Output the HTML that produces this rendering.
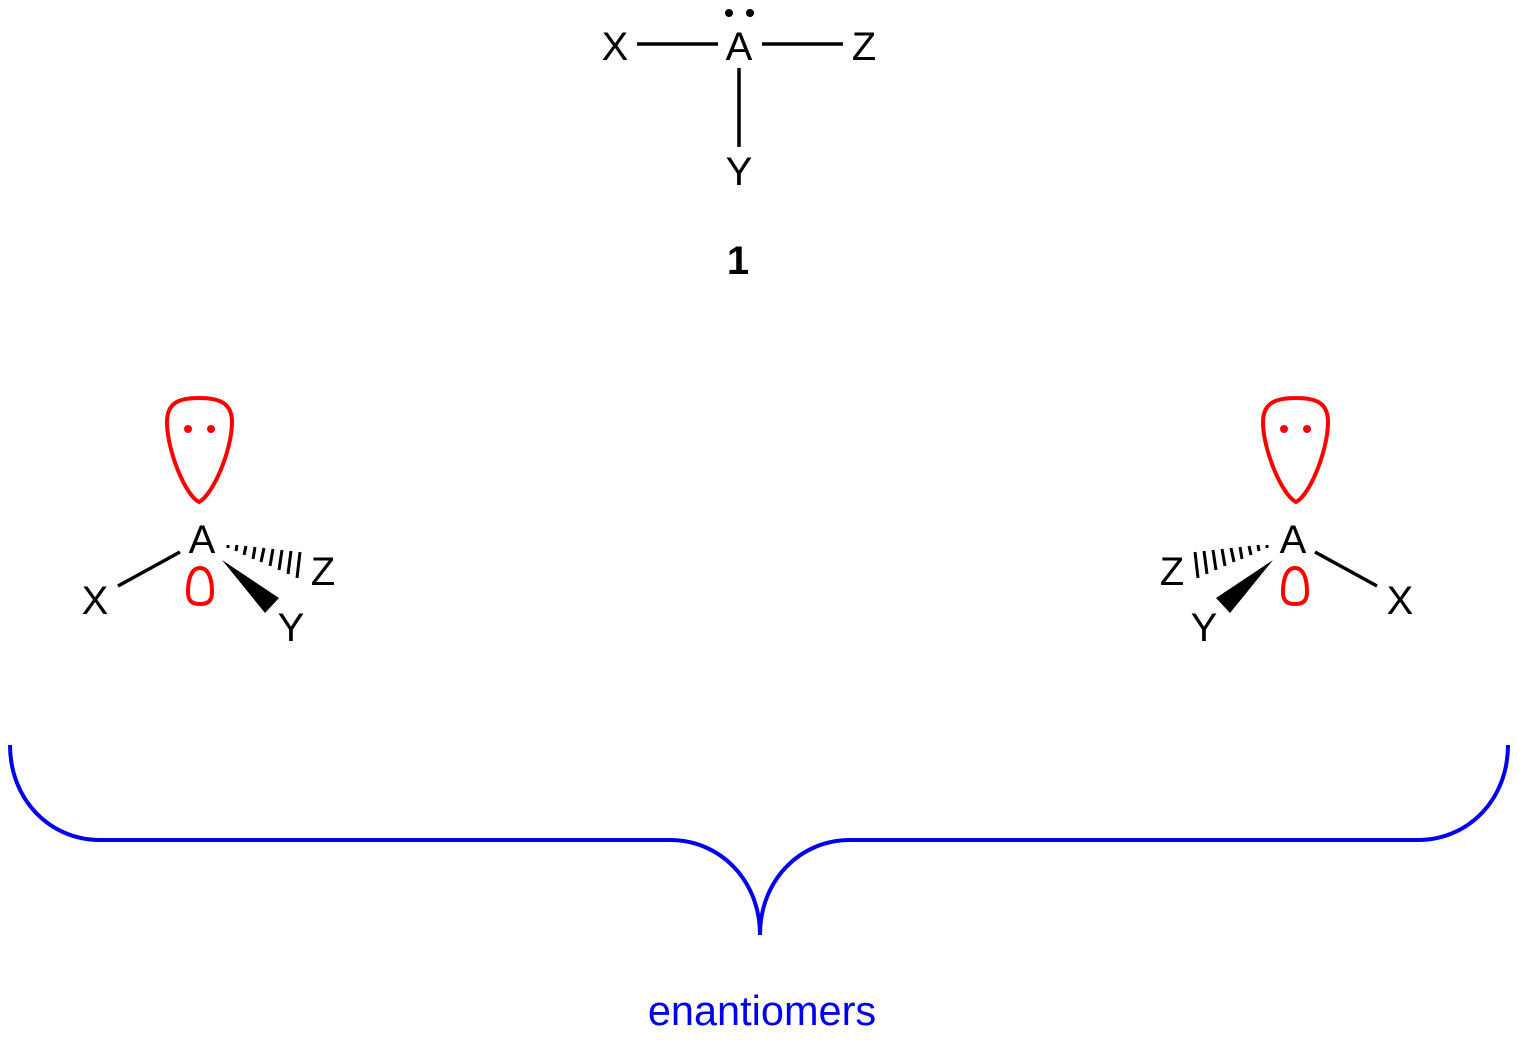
<!DOCTYPE html>
<html><head><style>body{margin:0;background:#fff}svg{display:block}text{font-family:"Liberation Sans",sans-serif;font-size:40px}</style></head>
<body>
<svg width="1519" height="1040" viewBox="0 0 1519 1040" xmlns="http://www.w3.org/2000/svg">
<g stroke="#000" stroke-width="3.5" fill="none">
<line x1="637" y1="44" x2="718" y2="44"/><line x1="762" y1="44" x2="843" y2="44"/><line x1="739" y1="68" x2="739" y2="147"/>
</g>
<circle cx="729" cy="13" r="4"/><circle cx="750" cy="13" r="4"/>
<g text-anchor="middle">
<text x="615" y="60">X</text><text x="739" y="60">A</text><text x="864" y="60">Z</text><text x="739" y="185">Y</text>
<text x="738" y="274" font-weight="bold">1</text>
</g>
<defs>
<g id="m">
<path d="M199,502 C185,495 167,450 167,422 C167,402 180,398 199,398 C218,398 232,402 232,422 C232,450 213,495 199,502 Z" fill="none" stroke="red" stroke-width="4"/>
<circle cx="188" cy="429" r="4" fill="red"/><circle cx="211" cy="429" r="4" fill="red"/>
<path d="M200,568 C209,568 212,580 212,592 C212,601 208,604 200,604 C192,604 188,601 188,592 C188,580 191,568 200,568 Z" fill="none" stroke="red" stroke-width="4"/>
<line x1="118" y1="586" x2="180" y2="552" stroke="#000" stroke-width="3.5"/>
<polygon points="222,560 265,613 279,598" fill="#000"/>
<g stroke="#000" stroke-width="3">
<line x1="228" y1="545" x2="228" y2="548"/><line x1="237" y1="545" x2="236" y2="551"/><line x1="246" y1="546" x2="244" y2="555"/><line x1="255" y1="547" x2="253" y2="559"/><line x1="264" y1="548" x2="261" y2="562"/><line x1="273" y1="549" x2="270" y2="566"/><line x1="282" y1="550" x2="279" y2="570"/><line x1="291" y1="551" x2="288" y2="574"/><line x1="300" y1="552" x2="297" y2="578"/>
</g>
</g>
</defs>
<use href="#m"/>
<use href="#m" transform="translate(1495,0) scale(-1,1)"/>
<g text-anchor="middle">
<text x="202" y="553">A</text><text x="95" y="614">X</text><text x="291" y="641">Y</text><text x="323" y="585">Z</text>
<text x="1293" y="553">A</text><text x="1400" y="614">X</text><text x="1204" y="641">Y</text><text x="1172" y="585">Z</text>
</g>
<g stroke="#0000ee" stroke-width="4" fill="none">
<path d="M10,745 C10,800 50,840 100,840 L670,840 C720,840 760,880 760,935"/>
<path d="M1508,745 C1508,800 1468,840 1418,840 L850,840 C800,840 760,880 760,935"/>
</g>
<text x="762" y="1025" text-anchor="middle" fill="#0000ee" style="font-size:41.5px">enantiomers</text>
</svg>
</body></html>
